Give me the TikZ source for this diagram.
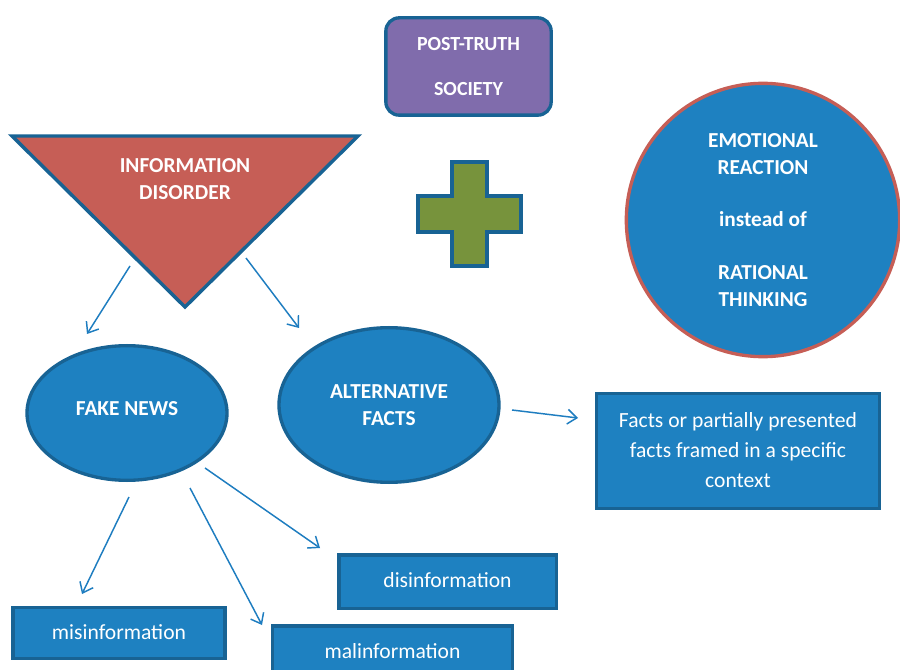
\documentclass[tikz,border=0pt]{standalone}
\usepackage{fontspec}
\setmainfont{Carlito}
\usetikzlibrary{shapes.geometric,arrows.meta}
\definecolor{bfill}{RGB}{30,129,193}
\definecolor{bdark}{RGB}{24,99,148}
\definecolor{rfill}{RGB}{198,94,86}
\definecolor{pfill}{RGB}{128,108,172}
\definecolor{gfill}{RGB}{119,147,60}
\definecolor{arr}{RGB}{30,125,192}
\begin{document}
\begin{tikzpicture}[x=0.75pt,y=-0.75pt,
  head/.style={text=white,font=\fontsize{16}{20}\selectfont\bfseries,align=center},
  plain/.style={text=white,font=\fontsize{16.2}{22.5}\selectfont,align=center},
  bluebox/.style={draw=bdark,line width=2.5pt,fill=bfill,rectangle,inner sep=0pt,plain},
  oval/.style={draw=bdark,line width=2.5pt,fill=bfill,ellipse,inner sep=0pt,head},
  conn/.style={draw=arr,line width=1.1pt,-{Straight Barb[length=7pt,width=11pt]}}]
\useasboundingbox[fill=white] (0,0) rectangle (900,670);

% post-truth box
\node[draw=bdark,line width=2.5pt,fill=pfill,rounded corners=10pt,minimum width=124pt,minimum height=73pt,
  text=white,font=\fontsize{15}{17}\selectfont\bfseries,align=center] (post) at (468.5,66.5)
  {POST-TRUTH\\[17pt]SOCIETY};

% triangle
\draw[draw=bdark,line width=2.6pt,fill=rfill] (12,136) -- (358,136) -- (185,307) -- cycle;
\node[head] (info) at (185,179) {INFORMATION\\DISORDER};

% plus
\draw[draw=bdark,line width=2.6pt,fill=gfill] (452,162) -- (487,162) -- (487,196) -- (521,196) -- (521,232)
  -- (487,232) -- (487,266) -- (452,266) -- (452,232) -- (418,232) -- (418,196) -- (452,196) -- cycle;

% circle
\node[draw=rfill,line width=2.5pt,fill=bfill,circle,minimum size=205pt,inner sep=0pt,head] (emo) at (763,220)
  {EMOTIONAL\\REACTION\\[19.5pt]instead of\\[19.5pt]RATIONAL\\THINKING};

% ellipses
\node[oval,minimum width=150pt,minimum height=101pt] (fake) at (127,413) {\raisebox{7pt}{FAKE NEWS}};
\node[oval,minimum width=165pt,minimum height=116pt] (alt) at (389,405) {ALTERNATIVE\\FACTS};

% boxes
\node[bluebox,minimum width=212pt,minimum height=86pt] (facts) at (738,451)
  {\raisebox{7pt}{\begin{tabular}{@{}c@{}}Facts or partially presented\\facts framed in a specific\\context\end{tabular}}};
\node[bluebox,minimum width=163pt,minimum height=40pt] (dis) at (447.5,581.5) {\raisebox{3pt}{disinformation}};
\node[bluebox,minimum width=159pt,minimum height=38pt] (mis) at (119,633) {\raisebox{2pt}{misinformation}};
\node[bluebox,minimum width=180pt,minimum height=39pt] (mal) at (392.5,652) {\raisebox{2pt}{malinformation}};

% arrows
\coordinate (a1s) at (130,266); \coordinate (a1e) at (87,334);
\coordinate (a2s) at (246,258); \coordinate (a2e) at (299,328);
\coordinate (a3s) at (512,410); \coordinate (a3e) at (578,418);
\coordinate (a4s) at (129,497); \coordinate (a4e) at (82,594);
\coordinate (a5s) at (190,488); \coordinate (a5e) at (262,625);
\coordinate (a6s) at (205,468); \coordinate (a6e) at (320,548);
\draw[conn] (a1s) -- (a1e);
\draw[conn] (a2s) -- (a2e);
\draw[conn] (a3s) -- (a3e);
\draw[conn] (a4s) -- (a4e);
\draw[conn] (a5s) -- (a5e);
\draw[conn] (a6s) -- (a6e);
\end{tikzpicture}
\end{document}
